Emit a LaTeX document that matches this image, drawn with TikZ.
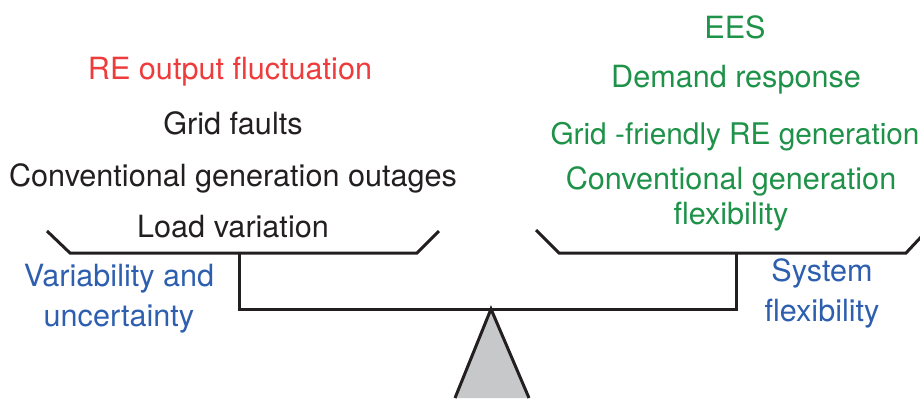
\documentclass[tikz,border=0pt]{standalone}
\usepackage{fontspec}
\setmainfont{TeX Gyre Heros}
\definecolor{reRed}{HTML}{EE3B3B}
\definecolor{flexGreen}{HTML}{1F9249}
\definecolor{sideBlue}{HTML}{2E5FAF}
\definecolor{txtBlack}{HTML}{231F20}
\definecolor{baseGray}{HTML}{C7C8CA}
\begin{document}
\begin{tikzpicture}[x=0.5pt, y=-0.5pt,
    lbl/.style={anchor=base, inner sep=0pt, font=\fontsize{15.3}{17.3}\selectfont, text=txtBlack},
    sidelbl/.style={lbl, align=center, font=\fontsize{15.3}{19.8}\selectfont, text=sideBlue},
    beam/.style={line width=1.5pt, draw=txtBlack, line join=miter}]
    \useasboundingbox (0,0) rectangle (920,398);
    % Fulcrum
    \coordinate (apex) at (491,309);
    \filldraw[beam, fill=baseGray] (455,398) -- (apex) -- (529,398);
    % Beam and pans
    \coordinate (lpan) at (239,253);
    \coordinate (rpan) at (736,253);
    \draw[beam] (lpan) -- (239,309) -- (736,309) -- (rpan);
    \draw[beam] (47,231) -- (70,253) -- (417,253) -- (439,231);
    \draw[beam] (536,230) -- (559,253) -- (906,253) -- (921,237);
    % Left pan: challenges
    \node[lbl, text=reRed] (refluct) at (230,79) {RE output fluctuation};
    \node[lbl] (faults) at (233,134) {Grid faults};
    \node[lbl] (outages) at (233,186) {Conventional generation outages};
    \node[lbl] (loadvar) at (233,237) {Load variation};
    \node[sidelbl] (varunc) at (119,326) {Variability and\\uncertainty};
    % Right pan: flexibility resources
    \node[lbl, text=flexGreen] (ees) at (735,38) {EES};
    \node[lbl, text=flexGreen] (demand) at (736,87) {Demand response};
    \node[lbl, text=flexGreen, font=\fontsize{14.9}{17}\selectfont] (gridre) at (735,144) {Grid -friendly RE generation};
    \node[lbl, text=flexGreen, align=center] (convflex) at (731,224) {Conventional generation\\flexibility};
    \node[sidelbl] (sysflex) at (822,321) {System\\flexibility};
\end{tikzpicture}
\end{document}
